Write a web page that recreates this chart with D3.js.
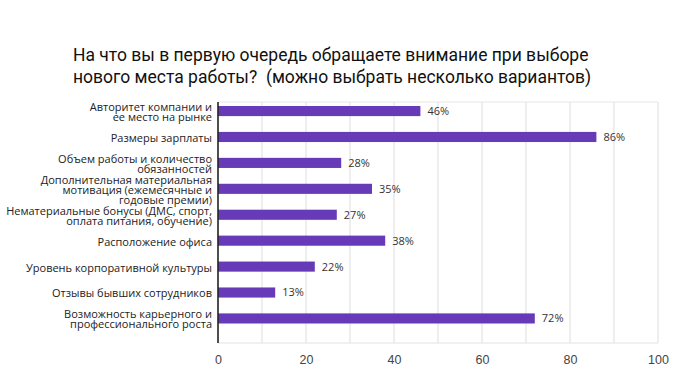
<!DOCTYPE html>
<html><head><meta charset="utf-8">
<script src="https://cdn.jsdelivr.net/npm/d3@7"></script>
<style>
html,body{margin:0;padding:0;background:#fff;}
svg{display:block;}
</style></head>
<body>
<svg id="chart" width="700" height="382"></svg>
<script>
const titleLines = ["На что вы в первую очередь обращаете внимание при выборе",
                    "нового места работы?  (можно выбрать несколько вариантов)"];
const categories = [
  "Авторитет компании и\nее место на рынке",
  "Размеры зарплаты",
  "Объем работы и количество\nобязанностей",
  "Дополнительная материальная\nмотивация (ежемесячные и\nгодовые премии)",
  "Нематериальные бонусы (ДМС, спорт,\nоплата питания, обучение)",
  "Расположение офиса",
  "Уровень корпоративной культуры",
  "Отзывы бывших сотрудников",
  "Возможность карьерного и\nпрофессионального роста"
];
const values = [46, 86, 28, 35, 27, 38, 22, 13, 72];
const valueLabels = ["46%", "86%", "28%", "35%", "27%", "38%", "22%", "13%", "72%"];
const tickValues = [0, 20, 40, 60, 80, 100];
const gridValues = [10, 20, 30, 40, 50, 60, 70, 80, 90, 100];

const svg = d3.select("#chart");
const plot = {left: 218, right: 658, top: 102, bottom: 343};

const x = d3.scaleLinear().domain([0, 100]).range([plot.left, plot.right]);
const y = d3.scaleBand().domain(categories).range([106, 323.5]).paddingInner(0.61).paddingOuter(0);

// title
svg.append("g").selectAll("text").data(titleLines).join("text")
  .attr("x", 73).attr("y", (d, i) => 61 + i * 22)
  .attr("font-family", "Roboto, 'Noto Sans', sans-serif")
  .attr("font-size", 17.5).attr("fill", "#111")
  .style("white-space", "pre")
  .text(d => d);

// grid
svg.append("g").selectAll("line").data(gridValues).join("line")
  .attr("x1", d => x(d)).attr("x2", d => x(d))
  .attr("y1", plot.top).attr("y2", plot.bottom)
  .attr("stroke", "#e3e3e3").attr("stroke-width", 1.2);
svg.append("line").attr("x1", plot.left).attr("x2", plot.right)
  .attr("y1", plot.top).attr("y2", plot.top).attr("stroke", "#e8e8e8").attr("stroke-width", 1.2);
svg.append("line").attr("x1", plot.left).attr("x2", plot.right)
  .attr("y1", plot.bottom).attr("y2", plot.bottom).attr("stroke", "#e3e3e3").attr("stroke-width", 1.2);

// bars
svg.append("g").selectAll("rect").data(categories).join("rect")
  .attr("x", x(0)).attr("y", d => y(d))
  .attr("width", (d, i) => x(values[i]) - x(0))
  .attr("height", y.bandwidth())
  .attr("fill", "#673ab7");

// value labels
svg.append("g").selectAll("text").data(categories).join("text")
  .attr("x", (d, i) => x(values[i]) + 7)
  .attr("y", d => y(d) + y.bandwidth() / 2 + 1)
  .attr("dominant-baseline", "middle")
  .attr("font-family", "'Open Sans', 'Noto Sans', sans-serif")
  .attr("font-size", 11).attr("fill", "#333")
  .text((d, i) => valueLabels[i]);

// category labels
const lineH = 10;
const lab = svg.append("g").selectAll("text").data(categories).join("text")
  .attr("text-anchor", "end")
  .attr("font-family", "'Open Sans', 'Noto Sans', sans-serif")
  .attr("font-size", 11).attr("fill", "#222");
lab.each(function(d) {
  const lines = d.split("\n");
  const cy = y(d) + y.bandwidth() / 2 + 2;
  const start = cy - (lines.length - 1) * lineH / 2;
  d3.select(this).selectAll("tspan").data(lines).join("tspan")
    .attr("x", 212).attr("y", (l, i) => start + i * lineH)
    .attr("dominant-baseline", "middle")
    .text(l => l);
});

// left axis line
svg.append("line").attr("x1", plot.left).attr("x2", plot.left)
  .attr("y1", plot.top).attr("y2", plot.bottom)
  .attr("stroke", "#222").attr("stroke-width", 1.6);

// x axis
const xAxis = d3.axisBottom(x).tickValues(tickValues).tickSize(0).tickPadding(12);
const ax = svg.append("g").attr("transform", `translate(0,${plot.bottom})`).call(xAxis);
ax.select(".domain").remove();
ax.selectAll("text").attr("font-family", "'Liberation Sans', Arial, sans-serif")
  .attr("font-size", 12.5).attr("fill", "#444");
</script>
</body></html>
